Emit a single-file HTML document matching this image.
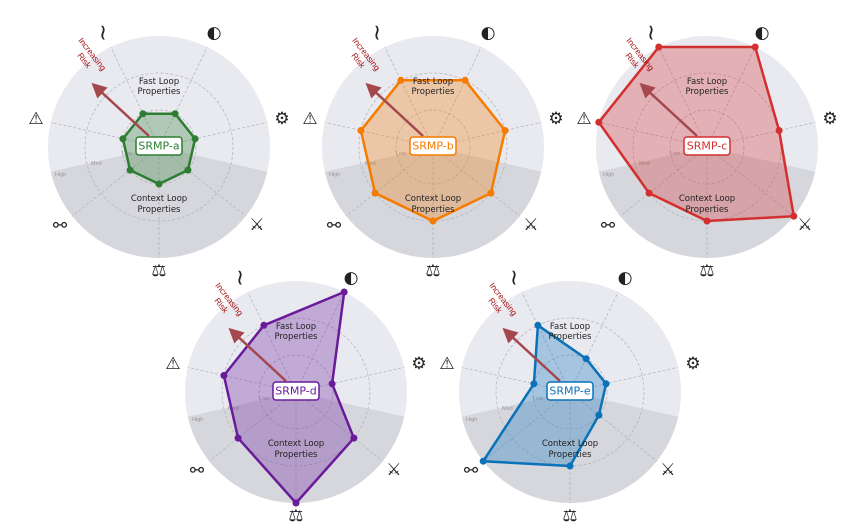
<!DOCTYPE html>
<html><head><meta charset="utf-8"><style>
html,body{margin:0;padding:0;background:#fff;width:857px;height:525px;overflow:hidden}
svg{display:block}
.ic{font-family:"DejaVu Sans",sans-serif;font-size:17px;fill:#222;text-anchor:middle;dominant-baseline:central}
.wv{font-family:"DejaVu Sans",sans-serif;font-size:22px;fill:#222;text-anchor:middle;dominant-baseline:central}
.lp{font-family:"DejaVu Sans","Liberation Sans",sans-serif;font-size:8.5px;fill:#222;text-anchor:middle}
.lv{font-family:"Liberation Sans",sans-serif;font-size:5.5px;fill:#999}
.rk{font-family:"Liberation Sans",sans-serif;font-size:8.5px;fill:#a31515;text-anchor:middle}
.lb{font-family:"DejaVu Sans","Liberation Sans",sans-serif;font-size:11px;text-anchor:middle;dominant-baseline:central}
</style></head><body>
<svg width="857" height="525" viewBox="0 0 857 525" xmlns="http://www.w3.org/2000/svg">
<defs>
<marker id="ah" markerWidth="6" markerHeight="6" refX="3" refY="3" orient="auto" markerUnits="strokeWidth">
<path d="M0,0 L6,3 L0,6 z" fill="#a5484d"/></marker>
<g id="bg">
<circle r="111" fill="#e9e9f0"/>
<path d="M0,0 L108.2,24.7 A111 111 0 0 1 -108.2,24.7 Z" fill="#d6d6dd"/>
<g fill="none" stroke="#b0b0b6" stroke-width="0.7" stroke-dasharray="3,2">
<circle r="37"/><circle r="74"/>
<line x1="0" y1="0" x2="0" y2="111"/>
<line x1="0" y1="0" x2="-86.8" y2="69.2"/>
<line x1="0" y1="0" x2="-108.2" y2="-24.7"/>
<line x1="0" y1="0" x2="-48.2" y2="-100"/>
<line x1="0" y1="0" x2="48.2" y2="-100"/>
<line x1="0" y1="0" x2="108.2" y2="-24.7"/>
<line x1="0" y1="0" x2="86.8" y2="69.2"/>
</g>
</g>
<g id="arr"><line x1="-10" y1="-11" x2="-62" y2="-59" stroke="#a5484d" stroke-width="2.5" marker-end="url(#ah)"/></g>
</defs>

<!-- Chart a -->
<g transform="translate(159,147)">
<use href="#bg"/>
<text class="lv" x="-37" y="8">Low</text><text class="lv" x="-68" y="18">Med</text><text class="lv" x="-104" y="29">High</text>
<polygon points="0,37 -28.9,23.1 -36.1,-8.2 -16.1,-33.3 16.1,-33.3 36.1,-8.2 28.9,23.1" fill="rgba(46,125,50,0.3)" stroke="#2e7d32" stroke-width="2.5" stroke-linejoin="round"/>
<g fill="#2e7d32"><circle cx="0" cy="37" r="3.5"/><circle cx="-28.9" cy="23.1" r="3.5"/><circle cx="-36.1" cy="-8.2" r="3.5"/><circle cx="-16.1" cy="-33.3" r="3.5"/><circle cx="16.1" cy="-33.3" r="3.5"/><circle cx="36.1" cy="-8.2" r="3.5"/><circle cx="28.9" cy="23.1" r="3.5"/></g>
<use href="#arr"/>
<text class="lp" x="0" y="-63">Fast Loop</text><text class="lp" x="0" y="-53">Properties</text>
<text class="lp" x="0" y="54">Context Loop</text><text class="lp" x="0" y="65">Properties</text>
<g transform="translate(-73,-88) rotate(52)"><text class="rk" x="0" y="-5">Increasing</text><text class="rk" x="0" y="5">Risk</text></g>
<rect x="-23" y="-10" width="46" height="18" rx="3" fill="#fff" stroke="#2e7d32" stroke-width="1.5"/>
<text class="lb" x="0" y="-1" fill="#2e7d32">SRMP-a</text>
<text class="ic" x="0" y="124">⚖</text><text class="ic" x="-99" y="79">⚯</text><text class="ic" x="-123" y="-28">⚠</text><text class="wv" x="-56" y="-114">≀</text><text class="ic" x="55" y="-114">◐</text><text class="ic" x="123" y="-28">⚙</text><text class="ic" x="98" y="78">⚔</text>
</g>

<!-- Chart b -->
<g transform="translate(433,147)">
<use href="#bg"/>
<text class="lv" x="-37" y="8">Low</text><text class="lv" x="-68" y="18">Med</text><text class="lv" x="-104" y="29">High</text>
<polygon points="0,74 -57.9,46.1 -72.1,-16.5 -32.1,-66.7 32.1,-66.7 72.1,-16.5 57.9,46.1" fill="rgba(245,124,0,0.3)" stroke="#f57c00" stroke-width="2.5" stroke-linejoin="round"/>
<g fill="#f57c00"><circle cx="0" cy="74" r="3.5"/><circle cx="-57.9" cy="46.1" r="3.5"/><circle cx="-72.1" cy="-16.5" r="3.5"/><circle cx="-32.1" cy="-66.7" r="3.5"/><circle cx="32.1" cy="-66.7" r="3.5"/><circle cx="72.1" cy="-16.5" r="3.5"/><circle cx="57.9" cy="46.1" r="3.5"/></g>
<use href="#arr"/>
<text class="lp" x="0" y="-63">Fast Loop</text><text class="lp" x="0" y="-53">Properties</text>
<text class="lp" x="0" y="54">Context Loop</text><text class="lp" x="0" y="65">Properties</text>
<g transform="translate(-73,-88) rotate(52)"><text class="rk" x="0" y="-5">Increasing</text><text class="rk" x="0" y="5">Risk</text></g>
<rect x="-23" y="-10" width="46" height="18" rx="3" fill="#fff" stroke="#f57c00" stroke-width="1.5"/>
<text class="lb" x="0" y="-1" fill="#f57c00">SRMP-b</text>
<text class="ic" x="0" y="124">⚖</text><text class="ic" x="-99" y="79">⚯</text><text class="ic" x="-123" y="-28">⚠</text><text class="wv" x="-56" y="-114">≀</text><text class="ic" x="55" y="-114">◐</text><text class="ic" x="123" y="-28">⚙</text><text class="ic" x="98" y="78">⚔</text>
</g>

<!-- Chart c -->
<g transform="translate(707,147)">
<use href="#bg"/>
<text class="lv" x="-37" y="8">Low</text><text class="lv" x="-68" y="18">Med</text><text class="lv" x="-104" y="29">High</text>
<polygon points="0,74 -57.9,46.1 -108.2,-24.7 -48.2,-100 48.2,-100 72.1,-16.5 86.8,69.2" fill="rgba(211,47,47,0.3)" stroke="#d32f2f" stroke-width="2.5" stroke-linejoin="round"/>
<g fill="#d32f2f"><circle cx="0" cy="74" r="3.5"/><circle cx="-57.9" cy="46.1" r="3.5"/><circle cx="-108.2" cy="-24.7" r="3.5"/><circle cx="-48.2" cy="-100" r="3.5"/><circle cx="48.2" cy="-100" r="3.5"/><circle cx="72.1" cy="-16.5" r="3.5"/><circle cx="86.8" cy="69.2" r="3.5"/></g>
<use href="#arr"/>
<text class="lp" x="0" y="-63">Fast Loop</text><text class="lp" x="0" y="-53">Properties</text>
<text class="lp" x="0" y="54">Context Loop</text><text class="lp" x="0" y="65">Properties</text>
<g transform="translate(-73,-88) rotate(52)"><text class="rk" x="0" y="-5">Increasing</text><text class="rk" x="0" y="5">Risk</text></g>
<rect x="-23" y="-10" width="46" height="18" rx="3" fill="#fff" stroke="#d32f2f" stroke-width="1.5"/>
<text class="lb" x="0" y="-1" fill="#d32f2f">SRMP-c</text>
<text class="ic" x="0" y="124">⚖</text><text class="ic" x="-99" y="79">⚯</text><text class="ic" x="-123" y="-28">⚠</text><text class="wv" x="-56" y="-114">≀</text><text class="ic" x="55" y="-114">◐</text><text class="ic" x="123" y="-28">⚙</text><text class="ic" x="98" y="78">⚔</text>
</g>

<!-- Chart d -->
<g transform="translate(296,392)">
<use href="#bg"/>
<text class="lv" x="-37" y="8">Low</text><text class="lv" x="-68" y="18">Med</text><text class="lv" x="-104" y="29">High</text>
<polygon points="0,111 -57.9,46.1 -72.1,-16.5 -32.1,-66.7 48.2,-100 36.1,-8.2 57.9,46.1" fill="rgba(106,27,154,0.3)" stroke="#6a1b9a" stroke-width="2.5" stroke-linejoin="round"/>
<g fill="#6a1b9a"><circle cx="0" cy="111" r="3.5"/><circle cx="-57.9" cy="46.1" r="3.5"/><circle cx="-72.1" cy="-16.5" r="3.5"/><circle cx="-32.1" cy="-66.7" r="3.5"/><circle cx="48.2" cy="-100" r="3.5"/><circle cx="36.1" cy="-8.2" r="3.5"/><circle cx="57.9" cy="46.1" r="3.5"/></g>
<use href="#arr"/>
<text class="lp" x="0" y="-63">Fast Loop</text><text class="lp" x="0" y="-53">Properties</text>
<text class="lp" x="0" y="54">Context Loop</text><text class="lp" x="0" y="65">Properties</text>
<g transform="translate(-73,-88) rotate(52)"><text class="rk" x="0" y="-5">Increasing</text><text class="rk" x="0" y="5">Risk</text></g>
<rect x="-23" y="-10" width="46" height="18" rx="3" fill="#fff" stroke="#6a1b9a" stroke-width="1.5"/>
<text class="lb" x="0" y="-1" fill="#6a1b9a">SRMP-d</text>
<text class="ic" x="0" y="124">⚖</text><text class="ic" x="-99" y="79">⚯</text><text class="ic" x="-123" y="-28">⚠</text><text class="wv" x="-56" y="-114">≀</text><text class="ic" x="55" y="-114">◐</text><text class="ic" x="123" y="-28">⚙</text><text class="ic" x="98" y="78">⚔</text>
</g>

<!-- Chart e -->
<g transform="translate(570,392)">
<use href="#bg"/>
<text class="lv" x="-37" y="8">Low</text><text class="lv" x="-68" y="18">Med</text><text class="lv" x="-104" y="29">High</text>
<polygon points="0,74 -86.8,69.2 -36.1,-8.2 -32.1,-66.7 16.1,-33.3 36.1,-8.2 28.9,23.1" fill="rgba(10,114,184,0.3)" stroke="#0a72b8" stroke-width="2.5" stroke-linejoin="round"/>
<g fill="#0a72b8"><circle cx="0" cy="74" r="3.5"/><circle cx="-86.8" cy="69.2" r="3.5"/><circle cx="-36.1" cy="-8.2" r="3.5"/><circle cx="-32.1" cy="-66.7" r="3.5"/><circle cx="16.1" cy="-33.3" r="3.5"/><circle cx="36.1" cy="-8.2" r="3.5"/><circle cx="28.9" cy="23.1" r="3.5"/></g>
<use href="#arr"/>
<text class="lp" x="0" y="-63">Fast Loop</text><text class="lp" x="0" y="-53">Properties</text>
<text class="lp" x="0" y="54">Context Loop</text><text class="lp" x="0" y="65">Properties</text>
<g transform="translate(-73,-88) rotate(52)"><text class="rk" x="0" y="-5">Increasing</text><text class="rk" x="0" y="5">Risk</text></g>
<rect x="-23" y="-10" width="46" height="18" rx="3" fill="#fff" stroke="#0a72b8" stroke-width="1.5"/>
<text class="lb" x="0" y="-1" fill="#0a72b8">SRMP-e</text>
<text class="ic" x="0" y="124">⚖</text><text class="ic" x="-99" y="79">⚯</text><text class="ic" x="-123" y="-28">⚠</text><text class="wv" x="-56" y="-114">≀</text><text class="ic" x="55" y="-114">◐</text><text class="ic" x="123" y="-28">⚙</text><text class="ic" x="98" y="78">⚔</text>
</g>
</svg>
</body></html>
